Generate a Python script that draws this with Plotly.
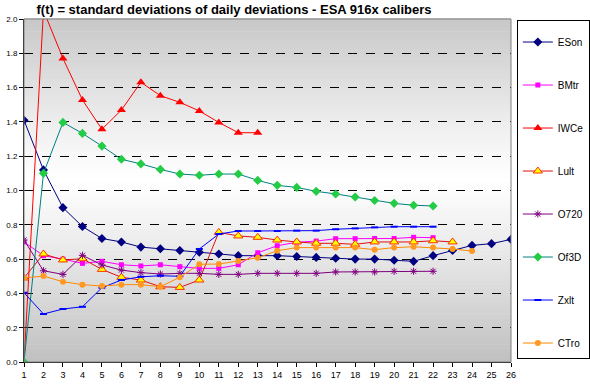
import plotly.graph_objects as go

x_days = list(range(1, 27))

eson = [1.41, 1.12, 0.90, 0.79, 0.72, 0.70, 0.67, 0.66, 0.65, 0.64, 0.63, 0.62, 0.62, 0.62,
        0.615, 0.61, 0.605, 0.60, 0.60, 0.593, 0.587, 0.62, 0.65, 0.68, 0.69, 0.715]
bmtr = [0.70, 0.62, 0.60, 0.575, 0.587, 0.567, 0.56, 0.567, 0.556, 0.546, 0.546, 0.567, 0.637,
        0.678, 0.698, 0.705, 0.719, 0.719, 0.72, 0.72, 0.727, 0.725]
iwce = [0.0, 2.05, 1.77, 1.528, 1.357, 1.469, 1.631, 1.553, 1.514, 1.464, 1.397, 1.337, 1.337]
lult = [0.49, 0.63, 0.595, 0.602, 0.54, 0.494, 0.478, 0.439, 0.435, 0.478, 0.756, 0.735, 0.727,
        0.711, 0.70, 0.692, 0.692, 0.686, 0.70, 0.70, 0.70, 0.707, 0.70]
o720 = [0.711, 0.532, 0.511, 0.622, 0.566, 0.536, 0.521, 0.513, 0.517, 0.517, 0.511, 0.511,
        0.517, 0.517, 0.517, 0.517, 0.525, 0.525, 0.525, 0.529, 0.529, 0.529]
of3d = [0.0, 1.10, 1.397, 1.333, 1.259, 1.182, 1.155, 1.123, 1.096, 1.089, 1.096, 1.096, 1.059,
        1.03, 1.018, 0.995, 0.98, 0.962, 0.942, 0.925, 0.914, 0.91]
zxlt = [0.404, 0.28, 0.309, 0.322, 0.433, 0.478, 0.497, 0.503, 0.50, 0.659, 0.746, 0.764, 0.764,
        0.764, 0.766, 0.766, 0.774, 0.779, 0.785, 0.789, 0.789, 0.789]
ctro = [0.49, 0.501, 0.468, 0.451, 0.443, 0.451, 0.451, 0.439, 0.494, 0.57, 0.571, 0.589, 0.608,
        0.649, 0.667, 0.667, 0.667, 0.667, 0.655, 0.667, 0.672, 0.667, 0.659, 0.647]

series = [
    ("ESon", eson, "#000080", dict(symbol="diamond", size=7, color="#000080")),
    ("BMtr", bmtr, "#FF00FF", dict(symbol="square", size=5, color="#FF00FF")),
    ("IWCe", iwce, "#FF0000", dict(symbol="triangle-up", size=8, color="#FF0000")),
    ("Lult", lult, "#E01010", dict(symbol="triangle-up", size=8, color="#FFFF00",
                                   line=dict(color="#FF3300", width=1))),
    ("O720", o720, "#800080", dict(symbol="asterisk", size=6, color="#800080",
                                   line=dict(color="#800080", width=1))),
    ("Of3D", of3d, "#008080", dict(symbol="diamond", size=7, color="#22CC44")),
    ("Zxlt", zxlt, "#0000FF", dict(symbol="line-ew", size=5, color="#0000FF",
                                   line=dict(color="#0000FF", width=2))),
    ("CTro", ctro, "#FF8800", dict(symbol="circle", size=6, color="#FF9922")),
]

fig = go.Figure()
for i, (name, vals, lc, mk) in enumerate(series):
    fig.add_trace(go.Scatter(
        x=x_days[:len(vals)], y=vals, name=name, mode="lines+markers",
        line=dict(color=lc, width=1), marker=mk, legendgroup=str(i),
        cliponaxis=True,
    ))

# gradient background bands (gray - white - gray)
shapes = []
n = 80
center = 0.53
for k in range(n):
    y0 = k / n
    y1 = (k + 1) / n
    t = abs((y0 + y1) / 2 - center) / max(center, 1 - center)
    t = min(1.0, t) ** 1.1
    g = int(round(255 - (255 - 192) * t))
    shapes.append(dict(type="rect", xref="x domain", yref="y domain", x0=0, x1=1,
                       y0=y0, y1=y1 + 0.002, fillcolor=f"rgb({g},{g},{g})",
                       line=dict(width=0), layer="below"))
shapes.append(dict(type="rect", xref="x domain", yref="y domain", x0=0, x1=1, y0=0, y1=1,
                   line=dict(color="#808080", width=1), fillcolor="rgba(0,0,0,0)", layer="above"))

fig.update_layout(
    width=590, height=385,
    margin=dict(l=24, r=79, t=19, b=23, autoexpand=False),
    paper_bgcolor="white", plot_bgcolor="rgba(0,0,0,0)",
    font=dict(family="Arial, Liberation Sans, sans-serif", size=9, color="black"),
    title=dict(text="<b>f(t) = standard deviations of daily deviations - ESA 916x calibers</b>",
               x=234 / 590, xanchor="center", y=1 - 9 / 385, yanchor="middle",
               font=dict(size=13, color="black")),
    shapes=shapes,
    showlegend=True,
    legend=dict(x=1.012, y=0.997, xanchor="left", yanchor="top",
                bgcolor="white", bordercolor="black", borderwidth=1,
                font=dict(size=10), tracegroupgap=24, itemwidth=30,
                title=dict(text=" ", font=dict(size=5))),
    xaxis=dict(range=[1, 26], tickmode="array", tickvals=x_days, ticktext=[str(v) for v in x_days],
               showgrid=False, showline=True, linecolor="black", linewidth=1,
               ticks="outside", ticklen=4, tickcolor="black", zeroline=False,
               tickfont=dict(size=9)),
    yaxis=dict(range=[0, 2], dtick=0.2, tick0=0, tickformat=".1f",
               showgrid=True, gridcolor="black", griddash="dash", gridwidth=1,
               showline=True, linecolor="black", linewidth=1,
               ticks="outside", ticklen=4, tickcolor="black", zeroline=False,
               tickfont=dict(size=8)),
)

fig.write_html("out.html", config={"displayModeBar": False},
               post_script="document.body.style.margin='0';")
